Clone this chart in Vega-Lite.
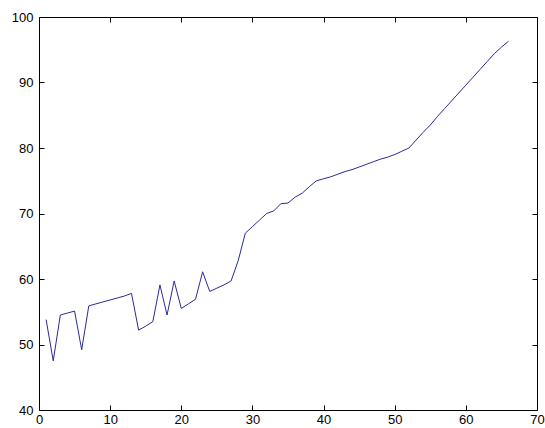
{
  "$schema": "https://vega.github.io/schema/vega-lite/v6.json",
  "width": 498,
  "height": 393,
  "autosize": {"type": "none"},
  "padding": {"left": 39, "top": 17, "right": 8, "bottom": 18},
  "background": "white",
  "config": {
    "view": {"stroke": null},
    "axis": {
      "grid": false,
      "domainColor": "black",
      "domainWidth": 1,
      "tickColor": "black",
      "tickWidth": 1,
      "tickSize": -5,
      "labelColor": "black",
      "labelFont": "Liberation Sans",
      "labelFontSize": 13,
      "labelOverlap": false,
      "labelFlush": false,
      "title": null
    }
  },
  "data": {
    "values": [
      {"x": 1, "y": 53.8}, {"x": 2, "y": 47.5}, {"x": 3, "y": 54.5}, {"x": 4, "y": 54.8},
      {"x": 5, "y": 55.1}, {"x": 6, "y": 49.2}, {"x": 7, "y": 55.9}, {"x": 8, "y": 56.2},
      {"x": 9, "y": 56.5}, {"x": 10, "y": 56.8}, {"x": 11, "y": 57.1}, {"x": 12, "y": 57.4},
      {"x": 13, "y": 57.8}, {"x": 14, "y": 52.2}, {"x": 15, "y": 52.8}, {"x": 16, "y": 53.5},
      {"x": 17, "y": 59.1}, {"x": 18, "y": 54.5}, {"x": 19, "y": 59.7}, {"x": 20, "y": 55.5},
      {"x": 21, "y": 56.2}, {"x": 22, "y": 56.9}, {"x": 23, "y": 61.1}, {"x": 24, "y": 58.1},
      {"x": 25, "y": 58.6}, {"x": 26, "y": 59.1}, {"x": 27, "y": 59.7}, {"x": 28, "y": 62.8},
      {"x": 29, "y": 67.0}, {"x": 30, "y": 68.0}, {"x": 31, "y": 69.0}, {"x": 32, "y": 70.0},
      {"x": 33, "y": 70.4}, {"x": 34, "y": 71.5}, {"x": 35, "y": 71.6}, {"x": 36, "y": 72.5},
      {"x": 37, "y": 73.1}, {"x": 38, "y": 74.1}, {"x": 39, "y": 75.0}, {"x": 40, "y": 75.3},
      {"x": 41, "y": 75.6}, {"x": 42, "y": 76.0}, {"x": 43, "y": 76.4}, {"x": 44, "y": 76.7},
      {"x": 45, "y": 77.1}, {"x": 46, "y": 77.5}, {"x": 47, "y": 77.9}, {"x": 48, "y": 78.3},
      {"x": 49, "y": 78.6}, {"x": 50, "y": 79.0}, {"x": 51, "y": 79.5}, {"x": 52, "y": 80.0},
      {"x": 53, "y": 81.2}, {"x": 54, "y": 82.4}, {"x": 55, "y": 83.5}, {"x": 56, "y": 84.8},
      {"x": 57, "y": 86.0}, {"x": 58, "y": 87.2}, {"x": 59, "y": 88.4}, {"x": 60, "y": 89.6},
      {"x": 61, "y": 90.8}, {"x": 62, "y": 92.0}, {"x": 63, "y": 93.2}, {"x": 64, "y": 94.4},
      {"x": 65, "y": 95.4}, {"x": 66, "y": 96.3}
    ]
  },
  "layer": [
    {
      "mark": {"type": "line", "color": "#2a2a9a", "strokeWidth": 1, "clip": true},
      "encoding": {
        "x": {"field": "x", "type": "quantitative",
              "scale": {"domain": [0, 70], "nice": false, "zero": false},
              "axis": {"orient": "bottom", "values": [0, 10, 20, 30, 40, 50, 60, 70], "labelPadding": 8}},
        "y": {"field": "y", "type": "quantitative",
              "scale": {"domain": [40, 100], "nice": false, "zero": false},
              "axis": {"orient": "left", "values": [40, 50, 60, 70, 80, 90, 100], "labelPadding": 11}}
      }
    },
    {
      "mark": {"type": "line", "strokeOpacity": 0},
      "encoding": {
        "x": {"field": "x", "type": "quantitative",
              "scale": {"domain": [0, 70], "nice": false, "zero": false},
              "axis": {"orient": "top", "values": [0, 10, 20, 30, 40, 50, 60, 70], "labels": false}},
        "y": {"field": "y", "type": "quantitative",
              "scale": {"domain": [40, 100], "nice": false, "zero": false},
              "axis": {"orient": "right", "values": [40, 50, 60, 70, 80, 90, 100], "labels": false}}
      }
    }
  ],
  "resolve": {"axis": {"x": "independent", "y": "independent"}}
}
